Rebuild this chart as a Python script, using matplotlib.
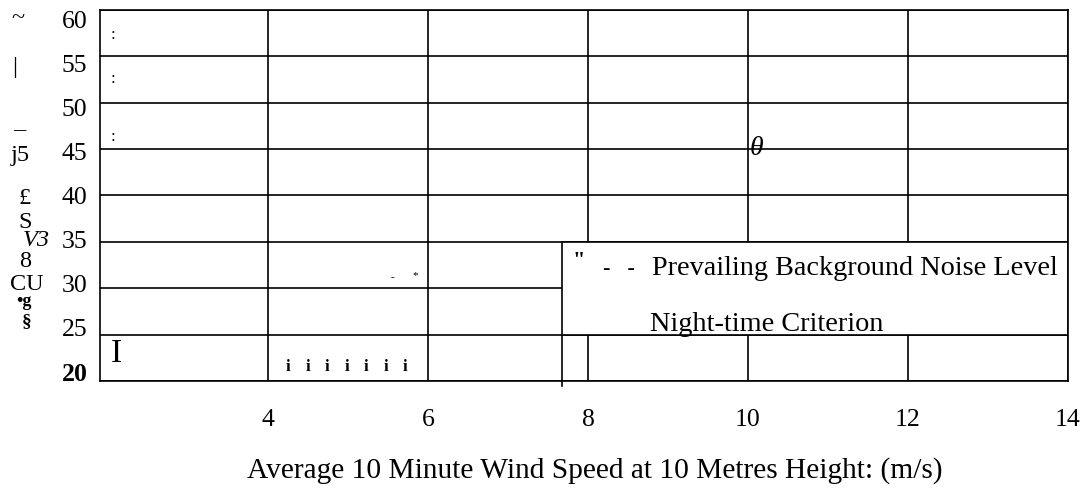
import matplotlib
matplotlib.use("Agg")
import matplotlib.pyplot as plt
from matplotlib.patches import Rectangle

plt.rcParams['font.family'] = ['Liberation Serif', 'DejaVu Serif']

# axis values
x_ticks = [4, 6, 8, 10, 12, 14]
y_ticks = [20, 25, 30, 35, 40, 45, 50, 55, 60]
x_label = "Average 10 Minute Wind Speed at 10 Metres Height: (m/s)"
legend_labels = ["Prevailing Background Noise Level", "Night-time Criterion"]

# scanned/garbled y-axis title fragments (text, weight, style)
ylabel_bits = ["~", "|", "_", "j5", "£", "S", "V3", "8", "CU", "•g", "§"]
ylabel_weight = ["normal"] * 9 + ["bold", "bold"]
ylabel_style = ["normal"] * 6 + ["italic"] + ["normal"] * 4

W, H = 1089, 494


def fx(px):
    return px / W


def fy(py):
    return 1 - py / H


fig = plt.figure(figsize=(W / 100, H / 100), dpi=100)
ax = fig.add_axes([fx(100), fy(381), (1068 - 100) / W, (381 - 10) / H])
ax.set_xlim(1.9, 14.0)
ax.set_ylim(20, 60)
ax.set_xticks(x_ticks)
ax.set_yticks(y_ticks)
ax.set_yticklabels([])
ax.tick_params(axis='both', length=0)
ax.tick_params(axis='x', pad=20.5, labelsize=18.5)
ax.set_axisbelow(True)
ax.grid(True, color='black', linewidth=1.2)
for sp in ax.spines.values():
    sp.set_linewidth(1.2)

# tick labels on the left sit a little off the grid in the scan
ax_lab = ax.twinx()
ax_lab.set_ylim(18.977, 61.136)
ax_lab.set_yticks(y_ticks)
ax_lab.yaxis.tick_left()
ax_lab.tick_params(axis='y', length=0, pad=9, labelsize=18.5)
for sp in ax_lab.spines.values():
    sp.set_visible(False)
ax_lab.get_yticklabels()[0].set_fontweight('bold')

# legend box
lx0 = 7.675
ax.add_patch(Rectangle((lx0, 25), 14.0 - lx0, 10, facecolor='white',
                       edgecolor='black', linewidth=1.2, zorder=2))
ax.plot([lx0, lx0], [19.5, 25], color='black', linewidth=1.2, clip_on=False, zorder=2)
fig.text(fx(579), fy(266), '"', fontsize=16, fontweight='bold', ha='center', va='baseline')
fig.text(fx(619), fy(274), '-   -', fontsize=16, fontweight='bold', ha='center', va='baseline')
fig.text(fx(652), fy(275), legend_labels[0], fontsize=20.3, ha='left', va='baseline')
fig.text(fx(650), fy(331), legend_labels[1], fontsize=20.3, ha='left', va='baseline')

# stray marks from the scan
for yy in (57.3, 52.6, 46.3):
    ax.text(2.06, yy, ':', fontsize=12, ha='center', va='center')
ax.text(2.11, 22.9, 'I', fontsize=24, ha='center', va='center')
for k in range(7):
    ax.text(4.25 + k * 0.244, 21.5, 'i', fontsize=12, fontweight='bold', ha='center', va='center')
ax.text(5.55, 31.2, '-', fontsize=8, ha='center', va='center')
ax.text(5.84, 31.4, '*', fontsize=8, ha='center', va='center')
ax.text(10.1, 45.1, 'θ', fontsize=20, style='italic', ha='center', va='center')

# garbled y title
ypos = [(18, 19), (15, 67), (19, 123), (20, 155), (25, 199), (25, 222),
        (36, 240), (25, 261), (27, 285), (24, 302), (27, 322)]
ysize = [17.5] * 9 + [13, 14]
for (px, py), s, w, st, fs in zip(ypos, ylabel_bits, ylabel_weight, ylabel_style, ysize):
    fig.text(fx(px), fy(py), s, fontsize=fs, fontweight=w, style=st,
             ha='center', va='center')

fig.text(fx(595), fy(478), x_label, fontsize=21.2, ha='center', va='baseline')

fig.savefig("out.png", dpi=100)
